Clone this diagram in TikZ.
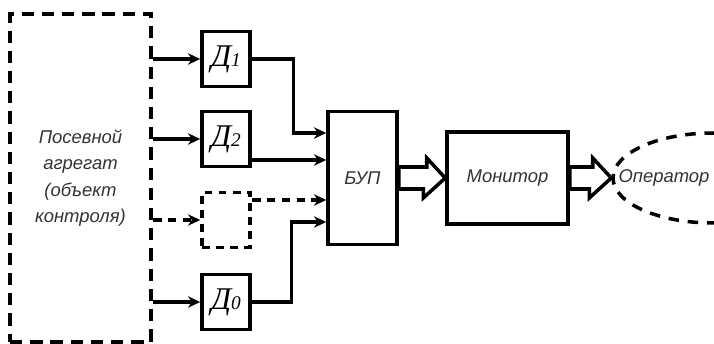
\documentclass[tikz,border=0pt]{standalone}
\usepackage{fontspec}
\setmainfont{Liberation Serif}
\newfontfamily\captfont{Liberation Sans}
\usetikzlibrary{shapes.geometric, arrows.meta, calc}

\begin{document}
\begin{tikzpicture}[
        x=0.02cm, y=-0.02cm,
        >={Stealth[length=7pt, width=6.5pt]},
        every node/.style={inner sep=0pt},
        sensor/.style={
            draw=black,
            line width=2pt,
            minimum width=0.96cm,
            minimum height=1.1cm,
            font=\fontsize{18}{18}\selectfont\itshape
        },
        unit/.style={
            draw=black,
            line width=2pt,
            font=\captfont\itshape\fontsize{10.5}{15}\selectfont,
            text=black!80,
            align=center
        },
        link/.style={->, line width=1.9pt},
        wide/.style={draw=black, line width=2pt, fill=white}
    ]
        \useasboundingbox (0,0) rectangle (714,344);

        % Object of control
        \node[unit, dash pattern=on 7pt off 4.5pt, minimum width=2.82cm, minimum height=6.56cm] (obj) at (80.5,178) {Посевной\\агрегат\\(объект\\контроля)};

        % Sensors
        \node[sensor] (d1) at (226,59) {Д{\fontsize{11}{11}\selectfont 1}};
        \node[sensor] (d2) at (226,139) {Д{\fontsize{11}{11}\selectfont 2}};
        \node[sensor, dash pattern=on 4.5pt off 3.5pt] (dx) at (226,220) {};
        \node[sensor] (d0) at (226,302) {Д{\fontsize{11}{11}\selectfont 0}};

        % Processing and display
        \node[unit, minimum width=1.38cm, minimum height=2.66cm] (bup) at (362.5,178) {БУП};
        \node[unit, minimum width=2.42cm, minimum height=1.84cm] (mon) at (507.5,178) {Монитор};
        \node[ellipse, draw=black, line width=2pt, dash pattern=on 6pt off 5pt, minimum width=4cm, minimum height=1.8cm] (op) at (713,178) {};
        \node[font=\captfont\itshape\fontsize{10.5}{15}\selectfont, text=black!80] (optext) at (664,178) {Оператор};

        % Inputs of BUP
        \coordinate (b1) at (bup.west |- 0,133);
        \coordinate (b2) at (bup.west |- 0,160);
        \coordinate (b3) at (bup.west |- 0,200);
        \coordinate (b4) at (bup.west |- 0,222);

        % Object to sensors
        \draw[link] (obj.east |- d1.west) -- (d1.west);
        \draw[link] (obj.east |- d2.west) -- (d2.west);
        \draw[link, dash pattern=on 5pt off 3.5pt] (obj.east |- dx.west) -- (dx.west);
        \draw[link] (obj.east |- d0.west) -- (d0.west);

        % Sensors to BUP
        \draw[link] (d1.east) -- ++(42,0) |- (b1);
        \draw[link] (d2.east |- b2) -- (b2);
        \draw[link, dash pattern=on 5pt off 3.5pt] (dx.east |- b3) -- (b3);
        \draw[link] (d0.east) -- ++(40,0) |- (b4);

        % Wide arrows
        \draw[wide] ($(bup.east)+(0,-11)$) -- ++(28,0) -- ++(0,-9) -- (mon.west) -- ++(-22,20) -- ++(0,-9) -- ($(bup.east)+(0,11)$) -- cycle;
        \draw[wide] ($(mon.east)+(0,-11)$) -- ++(23,0) -- ++(0,-9) -- (op.west) -- ++(-22,20) -- ++(0,-9) -- ($(mon.east)+(0,11)$) -- cycle;
    \end{tikzpicture}
\end{document}
